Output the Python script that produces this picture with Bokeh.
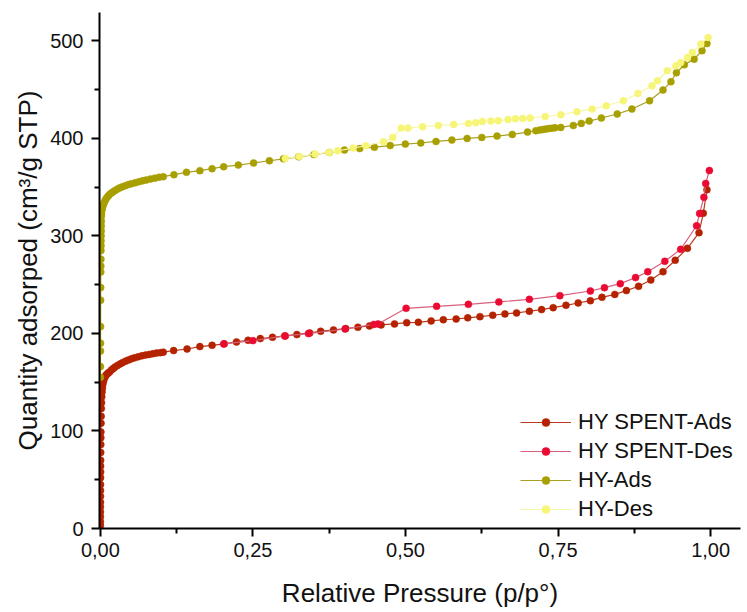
from bokeh.plotting import figure
from bokeh.models import Range1d, FixedTicker, Legend, LegendItem, CustomJSTickFormatter
from bokeh.embed import file_html
from bokeh.resources import INLINE

# ---- N2 isotherm data (relative pressure p/p°, quantity adsorbed cm3/g STP) ----
spent_ads_x = [0.00001, 0.00002, 0.00004, 0.00006, 0.00008, 0.0001, 0.00013, 0.00016, 0.0002, 0.00025,
               0.0003, 0.00035, 0.0004, 0.0005, 0.0006, 0.0007, 0.0008, 0.001, 0.0012, 0.0015,
               0.0018, 0.0022, 0.0027, 0.0033, 0.004, 0.005, 0.0062, 0.0076, 0.009, 0.011,
               0.013, 0.015, 0.018, 0.021, 0.024, 0.028, 0.032, 0.036, 0.041, 0.046,
               0.051, 0.056, 0.062, 0.068, 0.074, 0.080, 0.086, 0.092, 0.098, 0.103,
               0.120, 0.142, 0.163, 0.183, 0.203, 0.223, 0.242, 0.262, 0.282, 0.302,
               0.322, 0.343, 0.361, 0.382, 0.402, 0.422, 0.441, 0.460, 0.482, 0.502,
               0.521, 0.542, 0.562, 0.583, 0.602, 0.622, 0.643, 0.663, 0.682, 0.703,
               0.723, 0.742, 0.763, 0.783, 0.803, 0.822, 0.843, 0.862, 0.882, 0.902,
               0.922, 0.942, 0.962, 0.981, 0.988, 0.994]
spent_ads_y = [3, 7, 12, 17, 22, 27, 33, 39, 45, 52,
               58, 64, 70, 78, 86, 93, 99, 108, 115, 123,
               129, 135, 140, 144, 148, 151, 153.5, 155.5, 157, 158.5,
               159.5, 160.5, 162.5, 164, 165.5, 167.2, 168.6, 170, 171.5, 172.8,
               174, 175, 176, 177, 177.8, 178.5, 179.2, 179.8, 180.3, 180.8,
               182.4, 184, 186.5, 187.8, 189.3, 191.3, 193, 194.7, 196, 197.4,
               198.8, 200.5, 202.2, 203.6, 205, 206.3, 207.7, 208.7, 209.7, 211,
               211.4, 212.8, 214, 214.8, 216, 217.2, 218.6, 220, 221, 222.7,
               224.4, 226.4, 228.8, 231.2, 233.6, 237, 240, 243.9, 248.3, 254.8,
               263.3, 275, 287.2, 303.3, 323.1, 347.3]

spent_des_x = [0.998, 0.992, 0.989, 0.982, 0.977, 0.951, 0.925, 0.897, 0.877, 0.852,
               0.826, 0.803, 0.753, 0.703, 0.653, 0.603, 0.551, 0.501, 0.455, 0.448,
               0.401, 0.341, 0.303, 0.250, 0.202]
spent_des_y = [367, 353.8, 339.5, 323, 310.4, 286.2, 273.9, 263.3, 257.2, 251,
               246.9, 243.5, 238.7, 234.9, 232.3, 229.8, 227.8, 225.7, 209.7, 209.2,
               204.5, 199.8, 197.4, 192.6, 189.2]

hy_ads_x = [0.00005, 0.0001, 0.00015, 0.0002, 0.0003, 0.0004, 0.0005, 0.0006, 0.0007, 0.0008,
            0.0009, 0.001, 0.0011, 0.0012, 0.0013, 0.0014, 0.0015, 0.0016, 0.0018, 0.002,
            0.0023, 0.0026, 0.003, 0.004, 0.005, 0.006, 0.0075, 0.009, 0.011, 0.013,
            0.015, 0.018, 0.021, 0.024, 0.028, 0.032, 0.036, 0.041, 0.046, 0.051,
            0.057, 0.063, 0.069, 0.075, 0.082, 0.089, 0.096, 0.103,
            0.1205, 0.141, 0.163, 0.183, 0.202, 0.226, 0.251, 0.277, 0.300, 0.325,
            0.350, 0.375, 0.400, 0.425, 0.449, 0.475, 0.4997, 0.525, 0.550, 0.576,
            0.601, 0.625, 0.650, 0.675, 0.700, 0.7136, 0.720, 0.725, 0.730, 0.735,
            0.740, 0.745, 0.7545, 0.775, 0.788, 0.801, 0.821, 0.847, 0.871, 0.900,
            0.922, 0.935, 0.944, 0.957, 0.973, 0.986, 0.994]
hy_ads_y = [155, 166, 182, 190, 207, 234, 247, 263, 269, 276,
            285, 290, 295, 300, 305, 310, 315, 320, 323, 325.5,
            327, 328, 329, 330.5, 332.5, 334, 336, 337.8, 339.5, 341,
            342.5, 344, 345.2, 346.5, 348, 349.3, 350.3, 351.5, 352.6, 353.5,
            354.5, 355.5, 356.4, 357.2, 358.2, 359.2, 360, 360.7,
            362.7, 365.1, 366.8, 368.9, 370.9, 372.6, 374.7, 377, 379, 381,
            383.3, 385.5, 388, 389.5, 390.9, 392.6, 394.1, 395.2, 396.8, 398.2,
            399.9, 400.9, 402.3, 404, 406.4, 407.8, 408.5, 409, 409.5, 410,
            410.4, 410.8, 411.2, 413.2, 415.3, 417.7, 420.8, 424.9, 430, 438.5,
            449.5, 458, 467.2, 475.4, 481.2, 489.8, 497.2]

hy_des_x = [0.996, 0.984, 0.970, 0.962, 0.951, 0.943, 0.929, 0.913, 0.904, 0.881,
            0.857, 0.829, 0.806, 0.781, 0.7545, 0.729, 0.704, 0.692, 0.680, 0.668,
            0.652, 0.640, 0.626, 0.615, 0.603, 0.579, 0.554, 0.528, 0.504, 0.493,
            0.479, 0.464, 0.435, 0.414, 0.389, 0.375, 0.352, 0.326, 0.303]
hy_des_y = [503.4, 496.6, 488, 482.9, 477.8, 474.4, 469.3, 459, 453.9, 446,
            438.5, 433.4, 430, 427.3, 424.2, 422.4, 420.8, 420.4, 420, 419.2,
            418, 417.7, 417.3, 416, 415.3, 414.2, 413.2, 411.9, 410.5, 410.5,
            400.9, 396.5, 392.4, 390, 387.3, 385.6, 383.9, 381.5, 379.4]

series_labels = ["HY SPENT-Ads", "HY SPENT-Des", "HY-Ads", "HY-Des"]
series_colors = ["#B42200", "#EA0A32", "#A89F00", "#F6F578"]
line_colors = ["#B83A20", "#D8607E", "#A8A020", "#F7F7A8"]

x_ticks = [0.0, 0.25, 0.5, 0.75, 1.0]
x_minor = [0.125, 0.375, 0.625, 0.875]
y_ticks = [0, 100, 200, 300, 400, 500]
y_minor = [50, 150, 250, 350, 450]

FONT = "Liberation Sans"

p = figure(width=747, height=612, output_backend="svg", toolbar_location=None,
           x_range=Range1d(-0.0015, 1.049), y_range=Range1d(0, 529),
           min_border_left=99, min_border_right=7, min_border_top=12, min_border_bottom=84)
p.grid.visible = False
p.outline_line_color = None
p.background_fill_color = "white"
p.border_fill_color = "white"

series = [(spent_ads_x, spent_ads_y), (spent_des_x, spent_des_y),
          (hy_ads_x, hy_ads_y), (hy_des_x, hy_des_y)]
items = []
for (xs, ys), lab, mc, lc in zip(series, series_labels, series_colors, line_colors):
    ln = p.line(xs, ys, line_color=lc, line_width=1.2)
    sc = p.scatter(xs, ys, marker="circle", size=7, fill_color=mc, line_color=mc, line_width=0.5)
    items.append(LegendItem(label=lab, renderers=[ln, sc]))

legend = Legend(items=items, location=(421, 6), orientation="vertical",
                label_text_font=FONT, label_text_font_size="22px", label_text_color="#111111",
                glyph_width=51, glyph_height=20, label_height=20, spacing=3, padding=0, margin=0,
                label_standoff=7, border_line_alpha=0, background_fill_alpha=0)
p.add_layout(legend)

for ax in (p.xaxis[0], p.yaxis[0]):
    ax.axis_line_width = 2
    ax.axis_line_color = "black"
    ax.major_tick_line_width = 2
    ax.minor_tick_line_width = 2
    ax.major_tick_out = 8
    ax.major_tick_in = 0
    ax.minor_tick_out = 5
    ax.minor_tick_in = 0
    ax.major_label_text_font = FONT
    ax.major_label_text_font_size = "20px"
    ax.major_label_text_color = "#111111"
    ax.axis_label_text_font = FONT
    ax.axis_label_text_font_size = "26px"
    ax.axis_label_text_font_style = "normal"
    ax.axis_label_text_color = "#111111"

p.xaxis[0].ticker = FixedTicker(ticks=x_ticks, minor_ticks=x_minor)
p.xaxis[0].formatter = CustomJSTickFormatter(code="return tick.toFixed(2).replace('.', ',');")
p.xaxis[0].axis_label = "Relative Pressure (p/p°)"
p.xaxis[0].major_label_standoff = 6
p.xaxis[0].axis_label_standoff = 18

p.yaxis[0].ticker = FixedTicker(ticks=y_ticks, minor_ticks=y_minor)
p.yaxis[0].axis_label = "Quantity adsorped (cm³/g STP)"
p.yaxis[0].major_label_standoff = 8
p.yaxis[0].axis_label_standoff = 4

open("out.html", "w").write(file_html(p, INLINE))
